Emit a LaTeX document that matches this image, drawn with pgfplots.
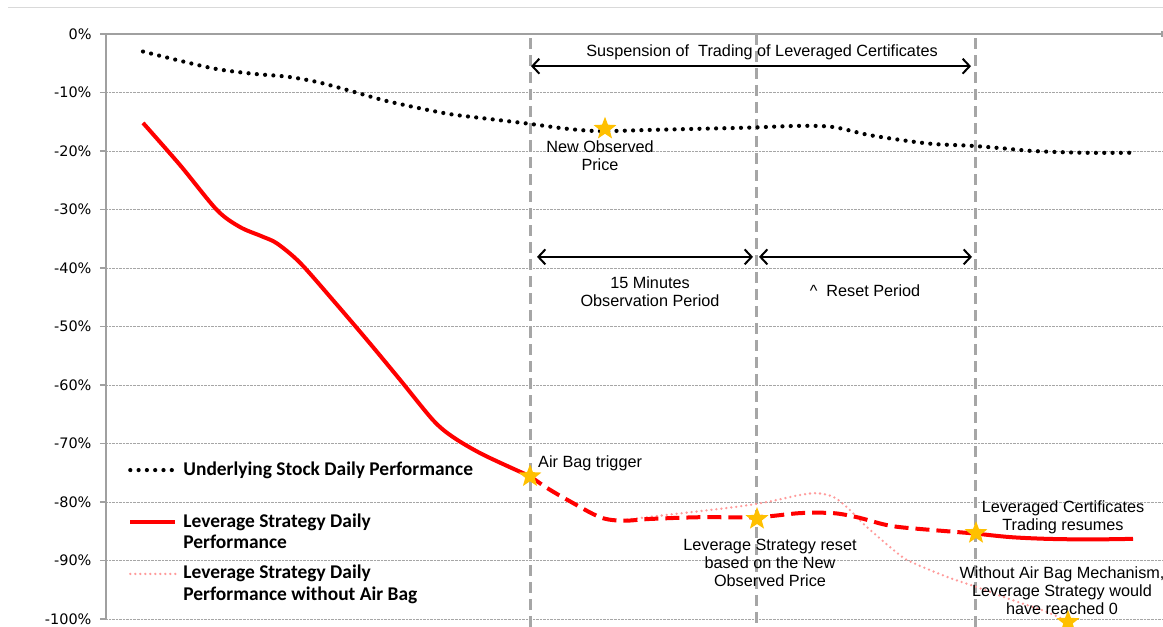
\documentclass[border=0pt]{standalone}
\usepackage{fontspec}
\setmainfont{Liberation Sans}
\newfontfamily\tickfont{DejaVu Sans}
\newfontfamily\legfont{Carlito}
\usepackage{pgfplots}
\pgfplotsset{compat=1.18}
\usetikzlibrary{arrows.meta}

\definecolor{gold}{HTML}{FFC000}
\definecolor{vgray}{HTML}{A6A6A6}
\definecolor{pinkline}{HTML}{FF9B9B}
\definecolor{axgray}{HTML}{A0A0A0}

% filled five-point star
\pgfdeclareplotmark{fstar}{%
  \pgfpathmoveto{\pgfpointpolar{90}{\pgfplotmarksize}}%
  \pgfpathlineto{\pgfpointpolar{126}{0.42\pgfplotmarksize}}%
  \pgfpathlineto{\pgfpointpolar{162}{\pgfplotmarksize}}%
  \pgfpathlineto{\pgfpointpolar{198}{0.42\pgfplotmarksize}}%
  \pgfpathlineto{\pgfpointpolar{234}{\pgfplotmarksize}}%
  \pgfpathlineto{\pgfpointpolar{270}{0.42\pgfplotmarksize}}%
  \pgfpathlineto{\pgfpointpolar{306}{\pgfplotmarksize}}%
  \pgfpathlineto{\pgfpointpolar{342}{0.42\pgfplotmarksize}}%
  \pgfpathlineto{\pgfpointpolar{18}{\pgfplotmarksize}}%
  \pgfpathlineto{\pgfpointpolar{54}{0.42\pgfplotmarksize}}%
  \pgfpathclose
  \pgfusepathqfill
}

\tikzset{
  vline/.style={vgray, line width=3bp, dash pattern=on 11bp off 6bp},
  arr/.style={line width=2bp, {Straight Barb[length=7bp,width=15bp]}-{Straight Barb[length=7bp,width=15bp]}},
  ann/.style={font=\fontsize{16.3}{18}\selectfont, align=center, inner sep=0pt},
}

\begin{document}
\begin{tikzpicture}
\begin{axis}[
    at={(106bp,8bp)}, anchor=south west,
    scale only axis, width=1056bp, height=585bp,
    xmin=106, xmax=1162, ymin=-100, ymax=0,
    clip=false,
    separate axis lines,
    axis x line*=top, axis y line*=left,
    axis line style={draw=axgray, line width=1.3bp},
    xtick={1162}, xticklabels={\phantom{0}}, xtick align=center,
    ytick={-100,-90,...,0},
    yticklabels={-100\%,-90\%,-80\%,-70\%,-60\%,-50\%,-40\%,-30\%,-20\%,-10\%,0\%},
    ytick align=outside, major tick length=6bp,
    tick style={draw=axgray, line width=1.2bp},
    yticklabel style={font=\tickfont\fontsize{14.5}{16}\selectfont, xshift=-5bp},
    ymajorgrids, major grid style={densely dotted, draw=gray!70, line width=0.8bp},
    legend cell align=left,
    legend style={at={(axis cs:128,-72.8)}, anchor=north west, draw=none, fill=none,
      inner sep=0pt, font=\legfont\bfseries\fontsize{19.5}{21.5}\selectfont,
      row sep=9bp, /tikz/column sep=6bp,
      cells={anchor=base west}, nodes={inner sep=0pt, text depth=}},
    legend image code/.code={\draw[#1] (0bp,5bp) -- (45bp,5bp);},
]

\draw[vline] (axis cs:530,-0.7) -- (axis cs:530,-103);
\draw[vline] (axis cs:756,0) -- (axis cs:756,-103);
\draw[vline] (axis cs:975,-0.7) -- (axis cs:975,-103);

\addplot[black, line width=4.2bp, line cap=round, dash pattern=on 0bp off 8.3bp, smooth]
coordinates {
(143,-3.0) (183,-4.7) (217,-6.0) (253,-6.8) (287,-7.3) (317,-8.2) (350,-9.7)
(383,-11.3) (417,-12.6) (450,-13.7) (483,-14.4) (527,-15.3) (567,-16.2)
(600,-16.6) (650,-16.4) (700,-16.2) (750,-16.0) (800,-15.7) (833,-15.9)
(867,-17.2) (900,-18.1) (933,-18.8) (970,-19.1) (1000,-19.5) (1033,-20.0)
(1083,-20.3) (1133,-20.3)
};
\addlegendentry{\begin{tabular}[t]{@{}l@{}}Underlying Stock Daily Performance\rule[-28bp]{0pt}{0pt}\end{tabular}}

\addplot[red, line width=4bp, smooth]
coordinates {
(143,-15.2) (180,-22.4) (217,-30.1) (240,-33.0) (262,-34.6)
(277,-35.8) (300,-39.1) (333,-45.5) (367,-52.3) (400,-59.1) (433,-66.0)
(453,-68.9) (483,-71.9) (530,-75.6)
};
\addlegendentry{\begin{tabular}[t]{@{}l@{}}Leverage Strategy Daily\\Performance\end{tabular}}

\addplot[pinkline, line width=2.6bp, line cap=round, dash pattern=on 0bp off 5bp, smooth]
coordinates {
(627,-83.0) (667,-82.2) (733,-80.9) (767,-80.0) (800,-78.8) (817,-78.5)
(833,-79.1) (847,-80.9) (867,-84.3) (900,-89.1) (913,-90.4) (947,-92.8)
(976,-94.5) (1013,-96.8) (1047,-98.8) (1068,-100.5)
};
\addlegendentry{\begin{tabular}[t]{@{}l@{}}Leverage Strategy Daily\\Performance without Air Bag\end{tabular}}

\addplot[red, line width=4bp, dash pattern=on 14bp off 7bp, smooth, forget plot]
coordinates {
(530,-75.6) (547,-77.6) (567,-79.6) (600,-82.6) (623,-83.2) (650,-82.9)
(700,-82.6) (757,-82.6) (800,-81.9) (833,-81.9) (857,-82.6) (883,-83.8)
(900,-84.3) (933,-84.8) (976,-85.4)
};
\addplot[red, line width=4bp, smooth, forget plot]
coordinates {
(976,-85.4) (1010,-86.0) (1047,-86.3) (1090,-86.4) (1133,-86.3)
};

\addplot[only marks, mark=fstar, mark size=12bp, color=gold, forget plot]
coordinates {
(530,-75.6) (605,-16.2) (757,-82.9) (976,-85.3) (1068,-100.5)
};

% annotations
\draw[arr] (axis cs:531,-5.5) -- (axis cs:971,-5.5);
\draw[arr] (axis cs:537,-38.1) -- (axis cs:753,-38.1);
\draw[arr] (axis cs:759,-38.1) -- (axis cs:972,-38.1);

\node[ann] at (axis cs:762,-3.1) {Suspension of~ Trading of Leveraged Certificates};
\node[ann] at (axis cs:650,-44.0) {15 Minutes\\Observation Period};
\node[ann] at (axis cs:865,-43.9) {\textasciicircum~ Reset Period};
\node[ann] at (axis cs:600,-20.8) {New Observed\\Price};
\node[ann, anchor=west] at (axis cs:538,-73.3) {Air Bag trigger};
\node[ann] at (axis cs:770,-90.4) {Leverage Strategy reset\\based on the New\\Observed Price};
\node[ann] at (axis cs:1063,-82.6) {Leveraged Certificates\\Trading resumes};
\node[ann] at (axis cs:1062,-95.2) {Without Air Bag Mechanism,\\Leverage Strategy would\\have reached 0};
\end{axis}
\pgfresetboundingbox
\useasboundingbox (0,0) rectangle (1163bp,627bp);
\draw[gray!30, line width=1bp] (8bp,619bp) -- (1163bp,619bp);
\end{tikzpicture}
\end{document}
